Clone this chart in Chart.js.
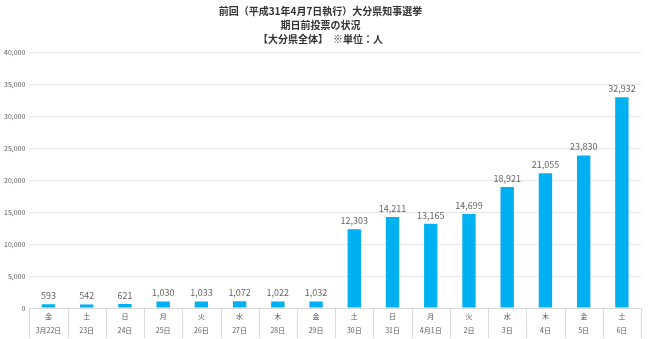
<!DOCTYPE html>
<html>
<head>
<meta charset="utf-8">
<script src="https://cdn.jsdelivr.net/npm/chart.js@4.4.1/dist/chart.umd.min.js"></script>
<style>
  html, body { margin: 0; padding: 0; background: #fff; }
  #wrap { width: 650px; height: 339px; position: relative; }
</style>
</head>
<body>
<div id="wrap"><canvas id="chart"></canvas></div>
<script>
// 曜日と日付（2段のカテゴリ）
const weekdays = ['金', '土', '日', '月', '火', '水', '木', '金', '土', '日', '月', '火', '水', '木', '金', '土'];
const dates = ['3月22日', '23日', '24日', '25日', '26日', '27日', '28日', '29日', '30日', '31日', '4月1日', '2日', '3日', '4日', '5日', '6日'];
// 期日前投票者数
const voters = [593, 542, 621, 1030, 1033, 1072, 1022, 1032, 12303, 14211, 13165, 14699, 18921, 21055, 23830, 32932];
const titleLines = ['前回（平成31年4月7日執行）大分県知事選挙', '期日前投票の状況', '【大分県全体】　※単位：人'];

const fontFamily = "'Noto Sans CJK JP', 'Noto Sans', sans-serif";

// 棒の上に数値を表示
const valueLabels = {
    id: 'valueLabels',
    afterDatasetsDraw(chart) {
        const ctx = chart.ctx;
        const meta = chart.getDatasetMeta(0);
        ctx.save();
        ctx.font = '9px ' + fontFamily;
        ctx.fillStyle = '#666666';
        ctx.textAlign = 'center';
        ctx.textBaseline = 'bottom';
        meta.data.forEach((bar, i) => {
            ctx.fillText(voters[i].toLocaleString('en-US'), bar.x, bar.y - 4);
        });
        ctx.restore();
    }
};

// カテゴリ間の区切り線（軸の下）
const categoryDividers = {
    id: 'categoryDividers',
    afterDraw(chart) {
        const x = chart.scales.x;
        const ctx = chart.ctx;
        const half = (x.getPixelForValue(1) - x.getPixelForValue(0)) / 2;
        ctx.save();
        ctx.strokeStyle = '#d9d9d9';
        ctx.lineWidth = 1;
        for (let i = 0; i <= voters.length; i++) {
            const px = Math.round(x.getPixelForValue(i) - half) + 0.5;
            ctx.beginPath();
            ctx.moveTo(px, x.top);
            ctx.lineTo(px, x.bottom);
            ctx.stroke();
        }
        ctx.restore();
    }
};

const ctx = document.getElementById('chart').getContext('2d');
new Chart(ctx, {
    type: 'bar',
    data: {
        labels: weekdays.map((w, i) => [w, dates[i]]),
        datasets: [{
            data: voters,
            backgroundColor: '#00B0F0',
            categoryPercentage: 1,
            barPercentage: 0.35
        }]
    },
    options: {
        responsive: true,
        maintainAspectRatio: false,
        animation: false,
        layout: { padding: { left: 0, right: 9, top: 2, bottom: 1 } },
        plugins: {
            legend: { display: false },
            tooltip: { enabled: false },
            title: {
                display: true,
                text: titleLines,
                color: '#333333',
                font: { family: fontFamily, size: 10, weight: 'bold', lineHeight: 1.4 },
                padding: { top: 2, bottom: 6 }
            }
        },
        scales: {
            x: {
                grid: { display: false },
                border: { color: '#d9d9d9' },
                afterFit: scale => { scale.height = 30; },
                ticks: {
                    color: '#595959',
                    font: { family: fontFamily, size: 7, lineHeight: 2 },
                    padding: -7,
                    maxRotation: 0,
                    autoSkip: false
                }
            },
            y: {
                min: 0,
                max: 40000,
                grid: { color: '#e6e6e6', drawTicks: false },
                border: { display: false },
                ticks: {
                    stepSize: 5000,
                    color: '#595959',
                    padding: 4,
                    font: { family: fontFamily, size: 7 },
                    callback: v => v.toLocaleString('en-US')
                }
            }
        }
    },
    plugins: [valueLabels, categoryDividers]
});
</script>
</body>
</html>
